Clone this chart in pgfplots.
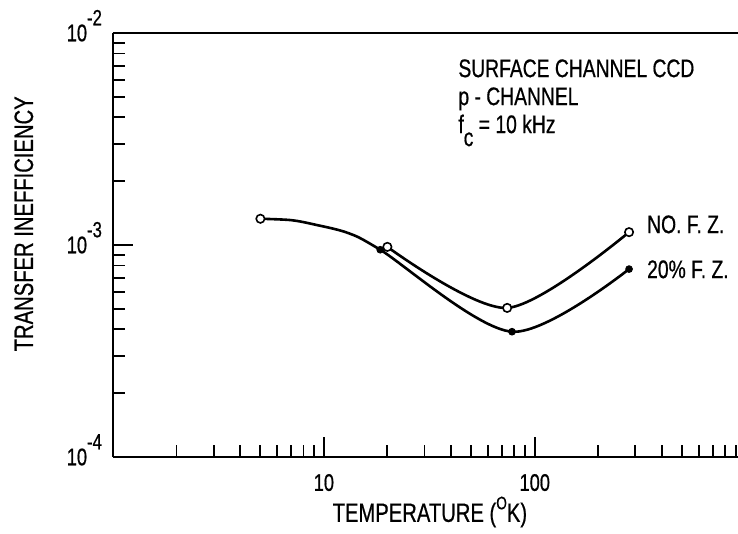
\documentclass[border=0pt]{standalone}
\usepackage{fontspec}
\setmainfont{Liberation Sans}[FakeStretch=0.76, FakeBold=0.6]
\usepackage{pgfplots}
\pgfplotsset{compat=1.18}
\newcommand\ex[1]{\raisebox{8pt}[0pt][0pt]{\fontsize{11}{11}\selectfont#1}}
\newcommand\lblfont{\fontsize{13.3}{15}\selectfont}
\newcommand\txtfont{\fontsize{12.7}{14}\selectfont}

\begin{document}
\begin{tikzpicture}
\begin{axis}[
    scale only axis,
    width=312.5pt, height=212pt,
    xmode=log, ymode=log,
    xmin=1, xmax=920,
    ymin=1e-4, ymax=1e-2,
    axis x line=box, axis y line=left,
    x axis line style={-}, y axis line style={-},
    axis line style={line width=1pt},
    xtick pos=bottom, ytick pos=left,
    tick align=inside,
    major tick length=10pt, minor tick length=6pt,
    every tick/.style={line width=0.9pt, black},
    xtick={10,100}, xticklabels={10,100},
    minor xtick={2,3,4,5,6,7,8,9,20,30,40,50,60,70,80,90,200,300,400,500,600,700,800,900},
    ytick={1e-4,1e-3,1e-2},
    yticklabels={10\ex{-4},10\ex{-3},10\ex{-2}},
    minor ytick={2e-4,3e-4,4e-4,5e-4,6e-4,7e-4,8e-4,9e-4,2e-3,3e-3,4e-3,5e-3,6e-3,7e-3,8e-3,9e-3},
    tick label style={font=\fontsize{12}{14}\selectfont},
    xticklabel style={yshift=-5pt},
    yticklabel style={xshift=-2pt},
    xlabel={TEMPERATURE (\raisebox{0.9ex}{\fontsize{9}{9}\selectfont O}K)},
    ylabel={TRANSFER INEFFICIENCY},
    label style={font=\lblfont},
    xlabel style={at={(axis description cs:0.507,-0.153)}, anchor=base},
    ylabel style={at={(axis description cs:-0.128,0.55)}, anchor=base},
    clip=false,
]

% 20% F.Z. curve (starts at the common point near 5 K)
\addplot[smooth, line width=1.3pt] coordinates {
    (5,1.33e-3) (7,1.31e-3) (9,1.25e-3) (13,1.14e-3) (18.5,9.5e-4)
    (78,3.9e-4) (280,7.7e-4)
};
% NO F.Z. curve
\addplot[smooth, line width=1.3pt] coordinates {
    (20,9.8e-4) (74,5.05e-4) (280,1.15e-3)
};

\addplot[only marks, mark=*, mark size=2.1pt,
    mark options={fill=white, draw=black, line width=0.8pt}] coordinates {
    (5,1.33e-3) (20,9.8e-4) (74,5.05e-4) (280,1.15e-3)
};
\addplot[only marks, mark=*, mark size=1.7pt, black] coordinates {
    (18.5,9.5e-4) (78,3.9e-4) (280,7.7e-4)
};

\node[anchor=base west, font=\txtfont, inner sep=0pt] at (rel axis cs:0.552,0.896) {SURFACE CHANNEL CCD};
\node[anchor=base west, font=\txtfont, inner sep=0pt] at (rel axis cs:0.552,0.830) {p - CHANNEL};
\node[anchor=base west, font=\txtfont, inner sep=0pt] at (rel axis cs:0.552,0.764) {f\raisebox{-6.5pt}{c} = 10 kHz};
\node[anchor=base west, font=\txtfont, inner sep=0pt] at (rel axis cs:0.854,0.528) {NO. F. Z.};
\node[anchor=base west, font=\txtfont, inner sep=0pt] at (rel axis cs:0.854,0.422) {20\% F. Z.};
\end{axis}
\pgfresetboundingbox
\useasboundingbox ([shift={(-56.5pt,-38.5pt)}]current axis.south west) rectangle ++(369pt,267pt);
\end{tikzpicture}
\end{document}
